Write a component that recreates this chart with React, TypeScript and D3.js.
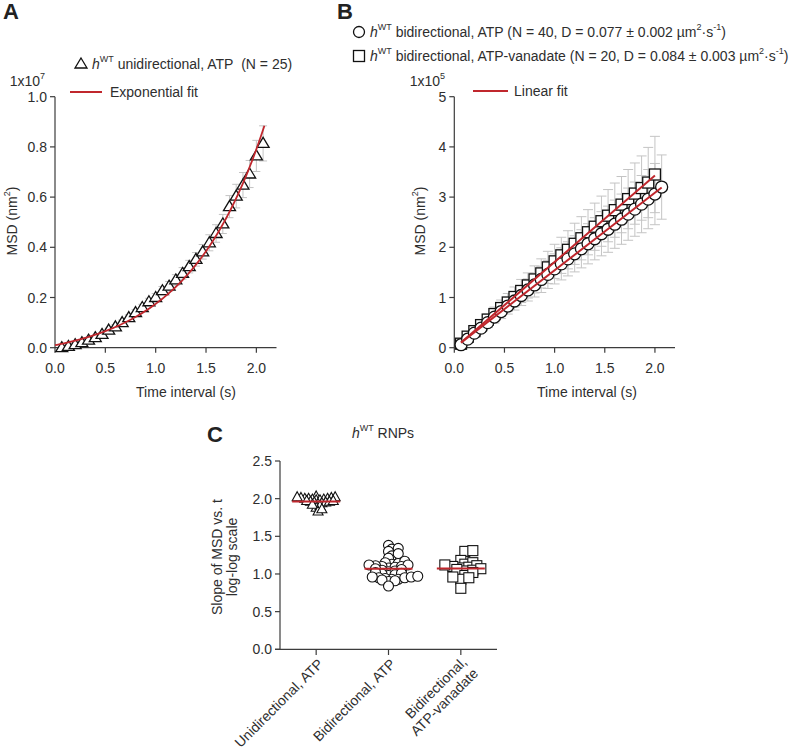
import React from "react";
import * as d3 from "d3";

const FONT = "'Liberation Sans', Arial, Helvetica, sans-serif";
const TEXT = "#2e2e2e";
const AXIS = "#3c3c3c";
const RED = "#c0272d";
const ERR = "#c4c4c4";

// ---- panel A: unidirectional MSD (units of 1e7 nm^2) ----
const lagTimes = [
  0.067, 0.133, 0.2, 0.267, 0.333, 0.4, 0.467, 0.533, 0.6, 0.667, 0.733, 0.8, 0.867, 0.933, 1.0, 1.067,
  1.133, 1.2, 1.267, 1.333, 1.4, 1.467, 1.533, 1.6, 1.667, 1.733, 1.8, 1.867, 1.933, 2.0, 2.067,
];
const msdUni = [
  0.0, 0.005, 0.012, 0.02, 0.03, 0.04, 0.053, 0.07, 0.083, 0.1, 0.12, 0.14, 0.16, 0.183, 0.2, 0.227,
  0.245, 0.27, 0.296, 0.323, 0.352, 0.382, 0.418, 0.455, 0.493, 0.562, 0.604, 0.648, 0.692, 0.764, 0.814,
];
const errUni = [
  0.002, 0.003, 0.003, 0.004, 0.005, 0.006, 0.007, 0.008, 0.009, 0.01, 0.011, 0.012, 0.013, 0.014, 0.016,
  0.017, 0.019, 0.021, 0.023, 0.025, 0.027, 0.029, 0.032, 0.035, 0.038, 0.044, 0.047, 0.05, 0.054, 0.062, 0.07,
];
// exponential fit y = a*exp(b*t) + c
const expFit = { a: 0.06, b: 1.32, c: -0.05, tMax: 2.08 };

// ---- panel B: bidirectional MSD (units of 1e5 nm^2) ----
const msdAtp = [
  0.06, 0.17, 0.29, 0.39, 0.5, 0.61, 0.72, 0.83, 0.93, 1.04, 1.15, 1.25, 1.36, 1.46, 1.57, 1.67,
  1.77, 1.87, 1.97, 2.07, 2.17, 2.27, 2.36, 2.46, 2.56, 2.66, 2.76, 2.86, 2.96, 3.06, 3.2,
];
const errAtp = [
  0.02, 0.04, 0.06, 0.08, 0.1, 0.12, 0.14, 0.16, 0.18, 0.2, 0.22, 0.24, 0.26, 0.28, 0.3, 0.32,
  0.34, 0.36, 0.38, 0.4, 0.42, 0.44, 0.46, 0.48, 0.5, 0.52, 0.54, 0.57, 0.59, 0.61, 0.64,
];
const msdVan = [
  0.08, 0.22, 0.33, 0.45, 0.56, 0.67, 0.79, 0.9, 1.01, 1.13, 1.24, 1.36, 1.48, 1.6, 1.72,
  1.84, 1.95, 2.07, 2.18, 2.3, 2.41, 2.52, 2.63, 2.74, 2.85, 2.96, 3.07, 3.18, 3.29, 3.45,
];
const errVan = [
  0.02, 0.05, 0.07, 0.09, 0.11, 0.14, 0.16, 0.18, 0.2, 0.23, 0.25, 0.27, 0.29, 0.32, 0.34,
  0.36, 0.38, 0.41, 0.43, 0.45, 0.47, 0.5, 0.52, 0.54, 0.56, 0.59, 0.61, 0.64, 0.7, 0.76,
];

// ---- panel C: slope of log-log MSD ----
const slopeCats = ["Unidirectional, ATP", "Bidirectional, ATP", "Bidirectional,\nATP-vanadate"];
const slopeUni = [
  2.03, 2.02, 2.02, 2.01, 2.01, 2.0, 2.0, 2.0, 1.99, 1.99, 1.98, 1.98, 1.97, 1.97, 1.96, 1.96,
  1.95, 1.95, 1.94, 1.93, 1.92, 1.9, 1.88, 1.86, 1.83,
];
const slopeBiAtp = [
  1.38, 1.34, 1.33, 1.3, 1.27, 1.24, 1.21, 1.17, 1.15, 1.14, 1.13, 1.12, 1.12, 1.11, 1.1, 1.1,
  1.09, 1.08, 1.07, 1.06, 1.05, 1.04, 1.03, 1.02, 1.01, 1.0, 0.99, 0.98, 0.97, 0.96, 0.96, 0.95,
  0.95, 0.94, 0.93, 0.93, 0.92, 0.91, 0.9, 0.84,
];
const slopeBiVan = [
  1.31, 1.3, 1.18, 1.15, 1.13, 1.12, 1.11, 1.1, 1.09, 1.08, 1.07, 1.06, 1.05, 1.04, 1.02, 0.98,
  0.96, 0.95, 0.93, 0.81,
];

const triPath = (w: number, h: number) =>
  `M0,${-h * 0.6}L${w / 2},${h * 0.4}L${-w / 2},${h * 0.4}Z`;

function linFit(xs: number[], ys: number[]) {
  const mx = d3.mean(xs)!;
  const my = d3.mean(ys)!;
  let num = 0;
  let den = 0;
  xs.forEach((x, i) => {
    num += (x - mx) * (ys[i] - my);
    den += (x - mx) * (x - mx);
  });
  const slope = num / den;
  return (t: number) => my + slope * (t - mx);
}

// scatter-dot layout: values falling in the same bin are spread in a centred row
function rowSwarm(vals: number[], y: (v: number) => number, cx: number, bin: number, gap: number) {
  const bins = d3.group(vals, (v) => Math.round(v / bin));
  const pts: { x: number; y: number }[] = [];
  bins.forEach((row) => {
    const n = row.length;
    row
      .slice()
      .sort((a, b) => a - b)
      .forEach((v, i) => {
        // alternate sides from the centre so the row stays balanced
        const slot = i % 2 ? Math.ceil(i / 2) : -Math.ceil(i / 2);
        const shift = n % 2 ? 0 : gap / 2;
        pts.push({ x: cx + slot * gap + shift, y: y(v) });
      });
  });
  return pts;
}

const YAxis = ({ scale, x, ticks, fmt }: any) => (
  <g>
    <line x1={x} x2={x} y1={scale(ticks[0])} y2={scale(ticks[ticks.length - 1])} stroke={AXIS} strokeWidth={1.2} />
    {ticks.map((t: number) => (
      <g key={t}>
        <line x1={x - 5} x2={x} y1={scale(t)} y2={scale(t)} stroke={AXIS} strokeWidth={1.2} />
        <text x={x - 8} y={scale(t)} textAnchor="end" dominantBaseline="central" fontSize={14} fill={TEXT}>
          {fmt(t)}
        </text>
      </g>
    ))}
  </g>
);

const XAxis = ({ scale, y, ticks, fmt, x1, x2 }: any) => (
  <g>
    <line x1={x1} x2={x2} y1={y} y2={y} stroke={AXIS} strokeWidth={1.2} />
    {ticks.map((t: number) => (
      <g key={t}>
        <line x1={scale(t)} x2={scale(t)} y1={y} y2={y + 5} stroke={AXIS} strokeWidth={1.2} />
        <text x={scale(t)} y={y + 20} textAnchor="middle" dominantBaseline="central" fontSize={14} fill={TEXT}>
          {fmt(t)}
        </text>
      </g>
    ))}
  </g>
);

const HWT = () => (
  <>
    <tspan fontStyle="italic">h</tspan>
    <tspan fontSize={9} dy={-5}>WT</tspan>
  </>
);

const MsdLabel = ({ x, y }: { x: number; y: number }) => (
  <text transform={`translate(${x},${y}) rotate(-90)`} textAnchor="middle" dominantBaseline="central" fontSize={14} fill={TEXT}>
    MSD (nm<tspan fontSize={9} dy={-5}>2</tspan>
    <tspan dy={5}>)</tspan>
  </text>
);

export default function App() {
  // panel A scales
  const xA = d3.scaleLinear().domain([0, 2.2]).range([55, 276.5]);
  const yA = d3.scaleLinear().domain([0, 1]).range([347.7, 96.7]);
  const expLine = d3
    .line<number>()
    .x((t) => xA(t))
    .y((t) => yA(expFit.a * Math.exp(expFit.b * t) + expFit.c));
  const expTs = d3.range(0, expFit.tMax + 0.001, 0.02);

  // panel B scales
  const xB = d3.scaleLinear().domain([0, 2.2]).range([454.3, 675]);
  const yB = d3.scaleLinear().domain([0, 5]).range([347.7, 96.7]);
  const lagVan = lagTimes.slice(0, msdVan.length);
  const fitAtp = linFit(lagTimes, msdAtp);
  const fitVan = linFit(lagVan, msdVan);

  // panel C scales
  const xC = d3.scaleBand().domain(slopeCats).range([280, 497]);
  const yC = d3.scaleLinear().domain([0, 2.5]).range([649.3, 461]);
  const cx = (c: string) => xC(c)! + xC.bandwidth() / 2;
  const groups = [
    { cat: slopeCats[0], vals: slopeUni, shape: "tri", gap: 3.8 },
    { cat: slopeCats[1], vals: slopeBiAtp, shape: "circle", gap: 6.5 },
    { cat: slopeCats[2], vals: slopeBiVan, shape: "square", gap: 8 },
  ];

  const errBars = (xs: number[], ys: number[], es: number[], xs_: any, ys_: any, cap: number) =>
    xs.map((t, i) => (
      <g key={i} stroke={ERR} strokeWidth={1}>
        <line x1={xs_(t)} x2={xs_(t)} y1={ys_(ys[i] - es[i])} y2={ys_(ys[i] + es[i])} />
        <line x1={xs_(t) - cap} x2={xs_(t) + cap} y1={ys_(ys[i] + es[i])} y2={ys_(ys[i] + es[i])} />
        <line x1={xs_(t) - cap} x2={xs_(t) + cap} y1={ys_(ys[i] - es[i])} y2={ys_(ys[i] - es[i])} />
      </g>
    ));

  return (
    <svg width={796} height={751} style={{ position: "absolute", left: 0, top: 0, background: "#fff" }} fontFamily={FONT}>
      {/* ================= A ================= */}
      <text x={3} y={19} fontSize={22} fontWeight="bold" fill="#222">A</text>
      <path d={triPath(12, 10)} transform="translate(81,64)" fill="#fff" stroke="#111" strokeWidth={1.3} />
      <text x={92} y={64} dominantBaseline="central" fontSize={14} fill={TEXT}>
        <HWT />
        <tspan dy={5}> unidirectional, ATP{"\u00A0\u00A0"}(N = 25)</tspan>
      </text>
      <text x={45} y={81} textAnchor="end" dominantBaseline="central" fontSize={14} fill={TEXT}>
        1x10<tspan fontSize={9} dy={-5}>7</tspan>
      </text>
      <line x1={70} x2={102} y1={92} y2={92} stroke={RED} strokeWidth={2} />
      <text x={110} y={92} dominantBaseline="central" fontSize={14} fill={TEXT}>Exponential fit</text>

      <YAxis scale={yA} x={55} ticks={[0, 0.2, 0.4, 0.6, 0.8, 1.0]} fmt={d3.format(".1f")} />
      <XAxis scale={xA} y={347.7} x1={55} x2={276.5} ticks={[0, 0.5, 1, 1.5, 2]} fmt={d3.format(".1f")} />
      <MsdLabel x={12} y={221} />
      <text x={186} y={392} textAnchor="middle" dominantBaseline="central" fontSize={14} fill={TEXT}>Time interval (s)</text>

      {errBars(lagTimes, msdUni, errUni, xA, yA, 4)}
      {lagTimes.map((t, i) => (
        <path key={i} d={triPath(12, 10)} transform={`translate(${xA(t)},${yA(msdUni[i])})`} fill="#fff" stroke="#111" strokeWidth={1.3} />
      ))}
      <path d={expLine(expTs)!} fill="none" stroke={RED} strokeWidth={1.8} />

      {/* ================= B ================= */}
      <text x={337} y={19} fontSize={22} fontWeight="bold" fill="#222">B</text>
      <circle cx={359} cy={32} r={5.5} fill="#fff" stroke="#111" strokeWidth={1.3} />
      <rect x={353.5} y={50.5} width={11} height={11} fill="#fff" stroke="#111" strokeWidth={1.3} />
      <text x={370} y={32} dominantBaseline="central" fontSize={14} fill={TEXT}>
        <HWT />
        <tspan dy={5}> bidirectional, ATP (N = 40, D = 0.077 ± 0.002 µm</tspan>
        <tspan fontSize={9} dy={-5}>2</tspan>
        <tspan dy={5}>·s</tspan>
        <tspan fontSize={9} dy={-5}>-1</tspan>
        <tspan dy={5}>)</tspan>
      </text>
      <text x={370} y={56} dominantBaseline="central" fontSize={14} fill={TEXT}>
        <HWT />
        <tspan dy={5}> bidirectional, ATP-vanadate (N = 20, D = 0.084 ± 0.003 µm</tspan>
        <tspan fontSize={9} dy={-5}>2</tspan>
        <tspan dy={5}>·s</tspan>
        <tspan fontSize={9} dy={-5}>-1</tspan>
        <tspan dy={5}>)</tspan>
      </text>
      <text x={445} y={81} textAnchor="end" dominantBaseline="central" fontSize={14} fill={TEXT}>
        1x10<tspan fontSize={9} dy={-5}>5</tspan>
      </text>
      <line x1={473} x2={508} y1={91} y2={91} stroke={RED} strokeWidth={2} />
      <text x={514} y={91} dominantBaseline="central" fontSize={14} fill={TEXT}>Linear fit</text>

      <YAxis scale={yB} x={454.3} ticks={[0, 1, 2, 3, 4, 5]} fmt={d3.format("d")} />
      <XAxis scale={xB} y={347.7} x1={454.3} x2={675} ticks={[0, 0.5, 1, 1.5, 2]} fmt={d3.format(".1f")} />
      <MsdLabel x={420} y={221} />
      <text x={587} y={392} textAnchor="middle" dominantBaseline="central" fontSize={14} fill={TEXT}>Time interval (s)</text>

      {errBars(lagVan, msdVan, errVan, xB, yB, 5)}
      {errBars(lagTimes, msdAtp, errAtp, xB, yB, 5)}
      {lagVan.map((t, i) => (
        <rect key={i} x={xB(t) - 5.5} y={yB(msdVan[i]) - 5.5} width={11} height={11} fill="#fff" stroke="#111" strokeWidth={1.3} />
      ))}
      {lagTimes.map((t, i) => (
        <circle key={i} cx={xB(t)} cy={yB(msdAtp[i])} r={6} fill="#fff" stroke="#111" strokeWidth={1.3} />
      ))}
      <line x1={xB(lagVan[0])} x2={xB(lagVan[lagVan.length - 1])} y1={yB(fitVan(lagVan[0]))} y2={yB(fitVan(lagVan[lagVan.length - 1]))} stroke={RED} strokeWidth={2} />
      <line x1={xB(lagTimes[0])} x2={xB(lagTimes[lagTimes.length - 1])} y1={yB(fitAtp(lagTimes[0]))} y2={yB(fitAtp(lagTimes[lagTimes.length - 1]))} stroke={RED} strokeWidth={2} />

      {/* ================= C ================= */}
      <text x={207} y={442} fontSize={22} fontWeight="bold" fill="#222">C</text>
      <text x={383} y={433} textAnchor="middle" dominantBaseline="central" fontSize={14} fill={TEXT}>
        <HWT />
        <tspan dy={5}> RNPs</tspan>
      </text>
      <YAxis scale={yC} x={280} ticks={[0, 0.5, 1, 1.5, 2, 2.5]} fmt={d3.format(".1f")} />
      <line x1={275} x2={497} y1={649.3} y2={649.3} stroke={AXIS} strokeWidth={1.2} />
      {slopeCats.map((c) => {
        const lines = c.split("\n");
        const multi = lines.length > 1;
        return (
          <g key={c}>
            <line x1={cx(c)} x2={cx(c)} y1={649.3} y2={655} stroke={AXIS} strokeWidth={1.2} />
            <text transform={`translate(${cx(c) + (multi ? 9 : 5)},${multi ? 665 : 662}) rotate(-45)`} textAnchor="end" fontSize={14} fill={TEXT}>
              {lines.map((l, i) => (
                <tspan key={i} x={0} dy={i === 0 ? (multi ? -3 : 4) : 16}>{l}</tspan>
              ))}
            </text>
          </g>
        );
      })}
      <text transform="translate(217,557) rotate(-90)" textAnchor="middle" dominantBaseline="central" fontSize={14} fill={TEXT}>
        Slope of MSD vs. t
      </text>
      <text transform="translate(232,557) rotate(-90)" textAnchor="middle" dominantBaseline="central" fontSize={14} fill={TEXT}>
        log-log scale
      </text>

      {groups.map((g) => {
        const pts = rowSwarm(g.vals, yC, cx(g.cat), 0.05, g.gap);
        const m = d3.mean(g.vals)!;
        return (
          <g key={g.cat}>
            {pts.map((p, i) =>
              g.shape === "tri" ? (
                <path key={i} d={triPath(10, 9)} transform={`translate(${p.x},${p.y})`} fill="#fff" stroke="#111" strokeWidth={1.1} />
              ) : g.shape === "circle" ? (
                <circle key={i} cx={p.x} cy={p.y} r={5} fill="#fff" stroke="#111" strokeWidth={1.1} />
              ) : (
                <rect key={i} x={p.x - 5} y={p.y - 5} width={10} height={10} fill="#fff" stroke="#111" strokeWidth={1.1} />
              )
            )}
            <line x1={cx(g.cat) - 24} x2={cx(g.cat) + 24} y1={yC(m)} y2={yC(m)} stroke={RED} strokeWidth={2} />
          </g>
        );
      })}
    </svg>
  );
}
